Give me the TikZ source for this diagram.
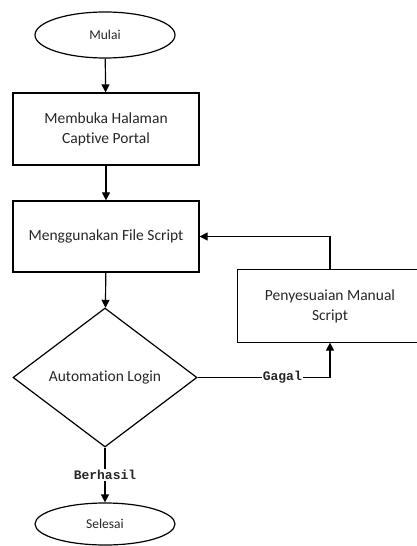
\documentclass[tikz,border=0pt]{standalone}
\usepackage{fontspec}
\setmainfont{Carlito}[Ligatures=NoCommon]
\newfontfamily\labelfont{Liberation Mono}
\usetikzlibrary{shapes.geometric,arrows.meta}

\tikzset{
  flowline/.style={draw=black, line width=1.2bp},
  flowarrow/.style={flowline, -{Triangle[length=8bp,width=8bp]}},
  terminal/.style={ellipse, draw=black, line width=1.2bp, minimum width=140bp,
    inner sep=0pt, font=\fontsize{13.5bp}{16bp}\selectfont, text=black!85},
  process/.style={rectangle, draw=black, line width=1.2bp, inner sep=0pt,
    align=center, font=\fontsize{15.5bp}{20bp}\selectfont, text=black!85},
  decision/.style={diamond, draw=black, line width=1.2bp, inner sep=0pt,
    minimum width=184bp, minimum height=139bp,
    font=\fontsize{15.5bp}{20bp}\selectfont, text=black!85},
  edgelabel/.style={fill=white, inner sep=1bp, text=black!85,
    font=\labelfont\bfseries\fontsize{13bp}{15bp}\selectfont},
}

\begin{document}
\begin{tikzpicture}[x=1bp, y=-1bp]
  \useasboundingbox (0,0) rectangle (416,546);

  % start and end terminals
  \node[terminal, minimum height=46bp] (mulai) at (105,35) {Mulai};
  \node[terminal, minimum height=42bp] (selesai) at (105,524) {Selesai};

  % process steps
  \node[process, minimum width=186bp, minimum height=72bp] (buka) at (106,129)
    {Membuka Halaman\\Captive Portal};
  \node[process, minimum width=186bp, minimum height=71bp] (script) at (106,236.5)
    {Menggunakan File Script};
  % this box runs off the right margin: only three sides are drawn
  \node[process, draw=none, minimum width=184bp, minimum height=72bp] (manual)
    at (330,306) {Penyesuaian Manual\\Script};
  \draw[flowline] (manual.north east) -- (manual.north west)
    -- (manual.south west) -- (manual.south east);

  % decision
  \node[decision] (login) at (105,377.5) {Automation Login};

  % main flow
  \draw[flowarrow] (mulai) -- (buka);
  \draw[flowarrow] (buka) -- (script);
  \draw[flowarrow] (script) -- (login);
  \draw[flowarrow] (login) -- node[edgelabel, pos=0.5] {Berhasil} (selesai);

  % retry loop
  \coordinate (gagalturn) at (manual.south |- login.east);
  \coordinate (backturn) at (manual.north |- script.east);
  \draw[flowline] (login.east) -- node[edgelabel, pos=0.64] {Gagal} (gagalturn);
  \draw[flowarrow] (gagalturn) -- (manual.south);
  \draw[flowarrow] (manual.north) -- (backturn) -- (script.east);
\end{tikzpicture}
\end{document}
